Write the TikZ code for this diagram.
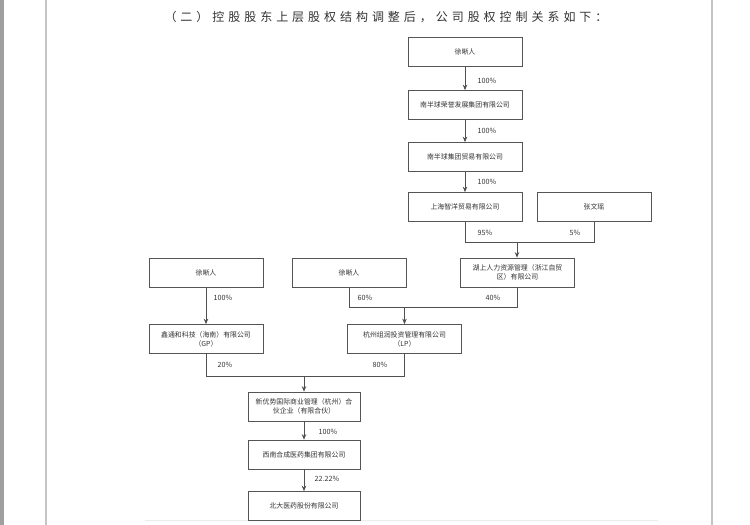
\documentclass[tikz,border=0pt]{standalone}
\usepackage{fontspec}
\setmainfont{Noto Sans CJK SC}
\newfontfamily\titlefont[LetterSpace=33]{Noto Sans CJK SC}
\usetikzlibrary{arrows.meta}
\definecolor{boxgray}{HTML}{555555}
\definecolor{linegray}{HTML}{505050}
\definecolor{txt}{HTML}{333333}
\definecolor{edge}{HTML}{C4C4C4}
\tikzset{
  box/.style={draw=boxgray, line width=0.7pt, minimum width=114pt, minimum height=29pt,
    inner sep=1pt, font=\fontsize{6.9}{9}\selectfont, text=txt, align=center},
  pct/.style={font=\fontsize{7.2}{8}\selectfont, text=txt, inner sep=0pt},
  link/.style={draw=linegray, line width=0.7pt},
  arr/.style={link, -{Stealth[length=5.5pt,width=4.5pt]}}
}
\begin{document}
\begin{tikzpicture}[x=1pt,y=-1pt]
\useasboundingbox (0,0) rectangle (750,525);
\fill[white] (0,0) rectangle (750,525);
% page decorations
\fill[gray!75] (0,0) rectangle (4,525);
\draw[edge, line width=1.5pt] (46,0) -- (46,525);
\draw[edge, line width=1.5pt] (712,0) -- (712,525);
\draw[gray!15, line width=0.8pt] (145,520) -- (658,520);
% title
\node[text=txt, font=\titlefont\fontsize{12}{14}\selectfont, inner sep=0pt] (title) at (386,17) {（二）控股股东上层股权结构调整后，公司股权控制关系如下：};
% boxes
\node[box] (p1) at (465,52) {徐晰人};
\node[box] (c1) at (465,105) {南半球荣誉发展集团有限公司};
\node[box] (c2) at (465,157) {南半球集团贸易有限公司};
\node[box] (c3) at (465,207) {上海智洋贸易有限公司};
\node[box] (zw) at (594,207) {张文瑶};
\node[box] (hs) at (517.5,272.5) {湖上人力资源管理（浙江自贸\\区）有限公司};
\node[box] (p2) at (206,272.5) {徐晰人};
\node[box] (p3) at (349,272.5) {徐晰人};
\node[box] (gp) at (206,339) {鑫通和科技（海南）有限公司\\（GP）};
\node[box] (lp) at (404.5,339) {杭州组润投资管理有限公司\\（LP）};
\node[box, minimum width=112pt] (xys) at (304,406.5) {新优势国际商业管理（杭州）合\\伙企业（有限合伙）};
\node[box, minimum width=112pt] (xn) at (304,454.5) {西南合成医药集团有限公司};
\node[box, minimum width=112pt] (bd) at (304,506) {北大医药股份有限公司};
% junctions
\coordinate (j1) at (517,242);
\coordinate (j2) at (404.5,307);
\coordinate (j3) at (304,376);
% connectors
\draw[arr] (p1) -- (c1);
\draw[arr] (c1) -- (c2);
\draw[arr] (c2) -- (c3);
\draw[link] (c3.south) |- (j1);
\draw[link] (zw.south) |- (j1);
\draw[arr] (j1) -- (j1 |- hs.north);
\draw[link] (hs.south -| j1) |- (j2);
\draw[link] (p3.south) |- (j2);
\draw[arr] (j2) -- (lp.north);
\draw[arr] (p2) -- (gp);
\draw[link] (gp.south) |- (j3);
\draw[link] (lp.south) |- (j3);
\draw[arr] (j3) -- (xys.north);
\draw[arr] (xys) -- (xn);
\draw[arr] (xn) -- (bd);
% labels
\node[pct] (l1) at (487,81) {100\%};
\node[pct] (l2) at (487,131) {100\%};
\node[pct] (l3) at (487,182) {100\%};
\node[pct] (l4) at (485,233) {95\%};
\node[pct] (l5) at (575,233) {5\%};
\node[pct] (l6) at (493,298) {40\%};
\node[pct] (l7) at (365,298) {60\%};
\node[pct] (l8) at (223,298) {100\%};
\node[pct] (l9) at (225,365) {20\%};
\node[pct] (l10) at (380,365) {80\%};
\node[pct] (l11) at (328,432) {100\%};
\node[pct] (l12) at (327,479) {22.22\%};
\end{tikzpicture}
\end{document}
